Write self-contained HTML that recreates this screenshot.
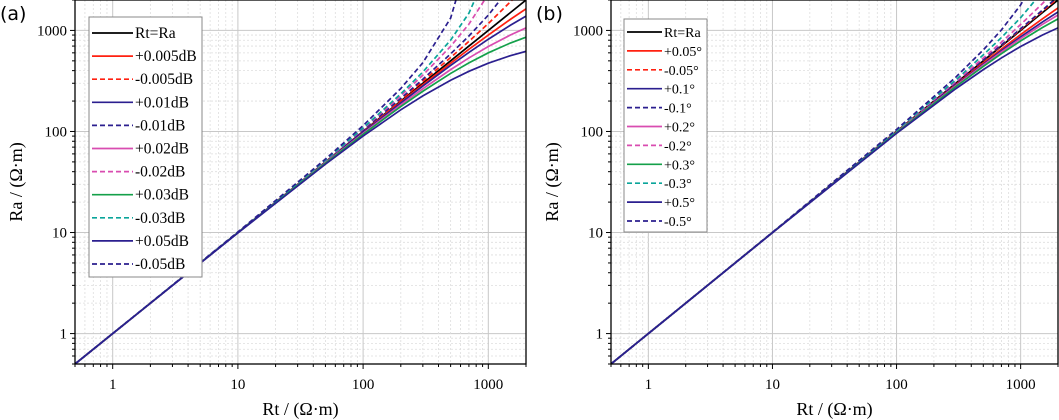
<!DOCTYPE html>
<html><head><meta charset="utf-8"><style>
html,body{margin:0;padding:0;background:#fff;}
svg{display:block;font-family:"Liberation Serif",serif;}
</style></head><body>
<svg id="chart" width="1059" height="420" xmlns="http://www.w3.org/2000/svg"></svg>
<script>
// ---- data ----
const rtA = [0.5, 1, 10, 50, 100, 200, 300, 500, 700, 1000, 1500, 2000];
const seriesNamesA = ["Rt=Ra","+0.005dB","-0.005dB","+0.01dB","-0.01dB","+0.02dB","-0.02dB","+0.03dB","-0.03dB","+0.05dB","-0.05dB"];
const refA    = [0.5, 1, 10, 50, 100, 200, 300, 500, 700, 1000, 1500, 2000];
const p005dB  = [0.5, 1, 10, 49.7, 98.9, 195.7, 290.3, 473.7, 649.5, 900, 1286, 1637];
const m005dB  = [0.5, 1, 10, 50.4, 101.5, 206, 313.6, 539, 779, 1170, 1917, 2817];
const p01dB   = [0.5, 1, 10, 49.45, 97.8, 191.5, 281.3, 450, 605.8, 818.3, 1125, 1385];
const m01dB   = [0.5, 1, 10, 50.7, 103, 212.5, 329, 586, 881, 1416, 2683, 4854];
const p02dB   = [0.5, 1, 10, 48.9, 95.7, 183.7, 264.7, 409.2, 534, 692.5, 900.4, 1059];
const m02dB   = [0.5, 1, 10.05, 51.4, 106, 225.3, 360.8, 695.4, 1154, 2283, 9554, null];
const p03dB   = [0.5, 1, 10, 48.4, 93.8, 176.5, 250, 375.1, 477.4, 600.2, 750.4, 857.6];
const m03dB   = [0.5, 1, 10.08, 52, 108.1, 235.5, 387.5, 802, 1480, 4049, null, null];
const p05dB   = [0.5, 1, 9.9, 47.4, 90, 163.7, 225.1, 321.5, 393.9, 473.9, 562.9, 621.1];
const m05dB   = [0.5, 1, 10.13, 53.3, 114.2, 266.3, 478.8, 1324.5, 5447, null, null, null];

const rtB = [0.5, 1, 10, 100, 300, 500, 700, 1000, 1500, 2000];
const seriesNamesB = ["Rt=Ra","+0.05°","-0.05°","+0.1°","-0.1°","+0.2°","-0.2°","+0.3°","-0.3°","+0.5°","-0.5°"];
const refB   = [0.5, 1, 10, 100, 300, 500, 700, 1000, 1500, 2000];
const p005d  = [0.5, 1, 10, 99, 291.3, 476.2, 654.2, 909.1, 1304, 1667];
const m005d  = [0.5, 1, 10, 100.2, 301.8, 505, 709.9, 1020, 1546, 2083];
const p01d   = [0.5, 1, 10, 98.5, 286.5, 463.6, 630.6, 864.3, 1214, 1522];
const m01d   = [0.5, 1, 10, 100.4, 303.5, 509.8, 719.4, 1040, 1590, 2167];
const p02d   = [0.5, 1, 10, 98, 282.8, 453.9, 612.9, 831.3, 1150, 1422];
const m02d   = [0.5, 1, 10, 101.3, 311.7, 533.3, 765, 1143, 1846, 2667];
const p03d   = [0.5, 1, 10, 97.4, 277.6, 440.7, 589.1, 788, 1069, 1300];
const m03d   = [0.5, 1, 10, 102.6, 323.4, 573.1, 850, 1337, 2421, 4016];
const p05d   = [0.5, 1, 9.95, 95.8, 264.8, 409.3, 534.3, 693, 901.2, 1060];
const m05d   = [0.5, 1, 10.05, 104.6, 344.4, 641, 1011, 1786, 4412, 16667];

const xTickLabels = ["1","10","100","1000"];
const yTickLabels = ["1","10","100","1000"];
const xTickValues = [1,10,100,1000];
const yTickValues = [1,10,100,1000];

// ---- styles ----
const NAVY="#2b1f8f", RED="#ff2010", MAG="#d94cb0", GRN="#14a04a", TEAL="#0aa59a";
const DASH="5,3";
const stylesA = [["#000",""],[RED,""],[RED,DASH],[NAVY,""],[NAVY,DASH],[MAG,""],[MAG,DASH],[GRN,""],[TEAL,DASH],[NAVY,""],[NAVY,DASH]];
const stylesB = stylesA;

const svg=document.getElementById('chart');
const NS="http://www.w3.org/2000/svg";
function mk(tag,attrs,parent){const e=document.createElementNS(NS,tag);for(const k in attrs)e.setAttribute(k,attrs[k]);(parent||svg).appendChild(e);return e;}

function panel(opt){
  const L=opt.left,R=opt.right,T=0,B=364;
  const lmin=Math.log10(0.5),lmax=Math.log10(2000);
  const xs=v=>L+(Math.log10(v)-lmin)/(lmax-lmin)*(R-L);
  const ys=v=>B-(Math.log10(v)-lmin)/(lmax-lmin)*(B-T);
  const g=mk('g',{});
  
  
  const clipId='clip'+opt.id;
  const cp=mk('clipPath',{id:clipId},g);mk('rect',{x:L,y:T,width:R-L,height:B-T},cp);
  const grid=mk('g',{},g);
  
  
  for(let d=-1;d<=3;d++){for(let m=1;m<=9;m++){const v=m*Math.pow(10,d);if(v<0.5||v>2000)continue;
    const major=m===1;
    const st=major?{stroke:"#c8c8c8","stroke-width":1}:{stroke:"#dedede","stroke-width":0.8,"stroke-dasharray":"2,2"};
    mk('line',Object.assign({x1:xs(v),x2:xs(v),y1:T,y2:B},st),grid);
    mk('line',Object.assign({x1:L,x2:R,y1:ys(v),y2:ys(v)},st),grid);
    const tl=major?5:3;
    mk('line',{x1:xs(v),x2:xs(v),y1:B,y2:B+tl,stroke:"#000","stroke-width":1},g);
    mk('line',{x1:L,x2:L-tl,y1:ys(v),y2:ys(v),stroke:"#000","stroke-width":1},g);
  }}
  const sg=mk('g',{"clip-path":"url(#"+clipId+")"},g);
  opt.series.forEach((s,i)=>{
    let d="";let pen=false;
    opt.rt.forEach((r,j)=>{const v=s[j];if(v==null){pen=false;return;}d+=(pen?"L":"M")+xs(r).toFixed(2)+","+ys(v).toFixed(2);pen=true;});
    const p=mk('path',{d:d,fill:"none",stroke:opt.styles[i][0],"stroke-width":1.7,"stroke-dasharray":opt.styles[i][1]},sg);
    
    
  });
  const fr=mk('rect',{x:L,y:T,width:R-L,height:B-T,fill:"none",stroke:"#000","stroke-width":1.3},g);
  
  
  xTickValues.forEach((v,i)=>{const t=mk('text',{x:xs(v),y:389,"text-anchor":"middle","font-size":15},g);t.textContent=xTickLabels[i];
    
    });
  yTickValues.forEach((v,i)=>{const t=mk('text',{x:L-8,y:ys(v)+5,"text-anchor":"end","font-size":15},g);t.textContent=yTickLabels[i];
    
    });
  const xt=mk('text',{x:(L+R)/2,y:415,"text-anchor":"middle","font-size":18},g);xt.textContent="Rt / (Ω·m)";
  
  
  const yt=mk('text',{x:0,y:0,"text-anchor":"middle","font-size":18,transform:"translate("+(opt.left-53)+","+182+") rotate(-90)"},g);yt.textContent="Ra / (Ω·m)";
  
  
  const pl=mk('text',{x:opt.left-75,y:20,"font-size":19,"font-family":"DejaVu Sans, sans-serif"},g);pl.textContent=opt.label;
  
  
  const lg=mk('g',{},g);
  
  
  const lb=opt.legend;
  mk('rect',{x:lb.x,y:lb.y,width:lb.w,height:lb.h,fill:"#fff",stroke:"#888","stroke-width":1},lg);
  opt.names.forEach((n,i)=>{const yy=lb.y0+i*lb.dy;
    const e=mk('g',{},lg);
    
    
    mk('line',{x1:lb.x+3,x2:lb.x+lb.lw,y1:yy,y2:yy,stroke:opt.styles[i][0],"stroke-width":1.7,"stroke-dasharray":opt.styles[i][1]},e);
    const t=mk('text',{x:lb.x+lb.lw+2,y:yy+5,"font-size":lb.fs},e);t.textContent=n;});
}

panel({id:"a",name:"panel-a",label:"(a)",left:75,right:526,rt:rtA,names:seriesNamesA,styles:stylesA,
  series:[refA,p005dB,m005dB,p01dB,m01dB,p02dB,m02dB,p03dB,m03dB,p05dB,m05dB],
  legend:{x:89,y:17,w:113,h:260,y0:33,dy:23.1,lw:44,fs:15.5}});
panel({id:"b",name:"panel-b",label:"(b)",left:611,right:1058,rt:rtB,names:seriesNamesB,styles:stylesB,
  series:[refB,p005d,m005d,p01d,m01d,p02d,m02d,p03d,m03d,p05d,m05d],
  legend:{x:624,y:19,w:83,h:213,y0:32,dy:18.9,lw:38,fs:14}});
</script>
</body></html>
